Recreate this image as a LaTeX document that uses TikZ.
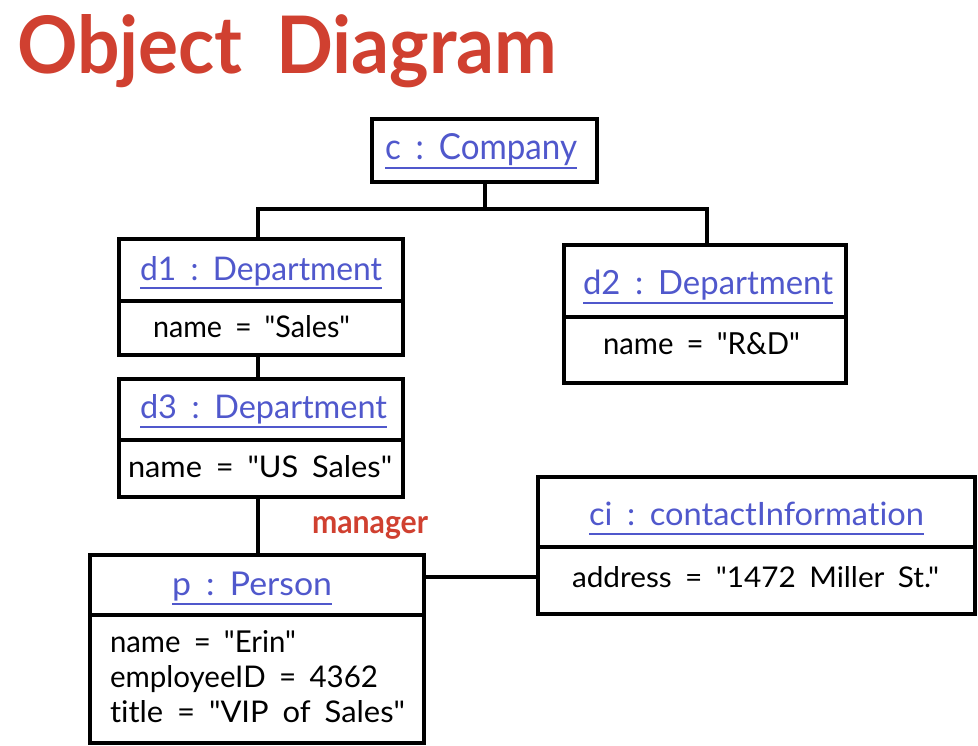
\documentclass[tikz,border=0pt]{standalone}
\usepackage{fontspec}
\setmainfont{Lato}[Ligatures={TeXOff,CommonOff}]
\usepackage{graphicx}
\definecolor{tred}{RGB}{208,64,48}
\definecolor{tblue}{RGB}{80,88,204}
\newcommand\mygap{\hspace{0.45em}}
\newcommand\qmark{\symbol{34}}
\newcommand\fitwh[3]{\resizebox{#1pt}{#2pt}{#3}}
\tikzset{
  obox/.style={draw, line width=3.5pt, inner sep=0pt, outer sep=0pt},
  divider/.style={line width=3.5pt},
  conn/.style={line width=3.3pt},
  txt/.style={anchor=base west, inner sep=0pt, outer sep=0pt},
  otitle/.style={txt, text=tblue},
  attr/.style={txt, text=black},
  uline/.style={tblue, line width=2pt},
}
\begin{document}
\begin{tikzpicture}[x=1pt,y=-1pt]
\fill[white] (0,0) rectangle (978,746);
\useasboundingbox (0,0) rectangle (978,746);

% heading
\node[txt, text=tred] (head) at (17,74) {\fitwh{540}{59}{\bfseries Object\mygap Diagram}};

% boxes
\node[obox, minimum width=225pt, minimum height=63pt] (c) at (484.5,150.5) {};
\node[obox, minimum width=284pt, minimum height=116pt] (d1) at (261,297) {};
\node[obox, minimum width=282pt, minimum height=138pt] (d2) at (705,314) {};
\node[obox, minimum width=284pt, minimum height=118pt] (d3) at (261,438) {};
\node[obox, minimum width=334pt, minimum height=188pt] (p) at (257,649) {};
\node[obox, minimum width=437pt, minimum height=137pt] (ci) at (756.5,545.5) {};

% dividers
\draw[divider] (d1.west |- 0,301) -- (d1.east |- 0,301);
\draw[divider] (d2.west |- 0,317) -- (d2.east |- 0,317);
\draw[divider] (d3.west |- 0,440) -- (d3.east |- 0,440);
\draw[divider] (p.west |- 0,615) -- (p.east |- 0,615);
\draw[divider] (ci.west |- 0,547) -- (ci.east |- 0,547);

% object names
\node[otitle] (tc) at (385,160) {\fitwh{192}{26}{c\mygap:\mygap Company}};
\node[otitle] (td1) at (140,280) {\fitwh{242}{24}{d1\mygap:\mygap Department}};
\node[otitle] (td2) at (583,295) {\fitwh{250}{24.5}{d2\mygap:\mygap Department}};
\node[otitle] (td3) at (140,418) {\fitwh{247}{24}{d3\mygap:\mygap Department}};
\node[otitle] (tp) at (172,595) {\fitwh{160}{23.5}{p\mygap:\mygap Person}};
\node[otitle] (tci) at (589,525) {\fitwh{335}{23.5}{ci\mygap:\mygap contactInformation}};
\foreach \n in {tc,td1,td2,td3,tp,tci}
  \draw[uline] ([yshift=-8.5pt]\n.base west) -- ([yshift=-8.5pt]\n.base east);

% attributes
\node[attr] (a1) at (153,337) {\fitwh{197}{22}{name\mygap=\mygap\qmark Sales\qmark}};
\node[attr] (a2) at (603,355) {\fitwh{197}{22}{name\mygap=\mygap\qmark R\&D\qmark}};
\node[attr] (a3) at (128,477) {\fitwh{264}{22}{name\mygap=\mygap\qmark US\mygap Sales\qmark}};
\node[attr] (a4) at (110,652) {\fitwh{186}{22}{name\mygap=\mygap\qmark Erin\qmark}};
\node[attr] (a5) at (110,687) {\fitwh{268}{22}{employeeID\mygap=\mygap 4362}};
\node[attr] (a6) at (110,722) {\fitwh{295}{22}{title\mygap=\mygap\qmark VIP\mygap of\mygap Sales\qmark}};
\node[attr] (a7) at (572,587) {\fitwh{367}{21}{address\mygap=\mygap\qmark 1472\mygap Miller\mygap St.\qmark}};

% connectors
\coordinate (j) at (485,209);
\coordinate (jl) at (258,209);
\coordinate (jr) at (707,209);
\draw[conn] (c.south -| j) -- (j);
\draw[conn] (d1.north -| jl) -- (jl) -- (jr) -- (d2.north -| jr);
\draw[conn] (d1.south -| jl) -- (d3.north -| jl);
\draw[conn] (d3.south -| jl) -- (p.north -| jl);
\coordinate (hy) at (0,577);
\draw[conn] (p.east |- hy) -- (ci.west |- hy);

% role label
\node[txt, text=tred] (mgr) at (312,533) {\fitwh{116}{17}{\bfseries manager}};
\end{tikzpicture}
\end{document}
